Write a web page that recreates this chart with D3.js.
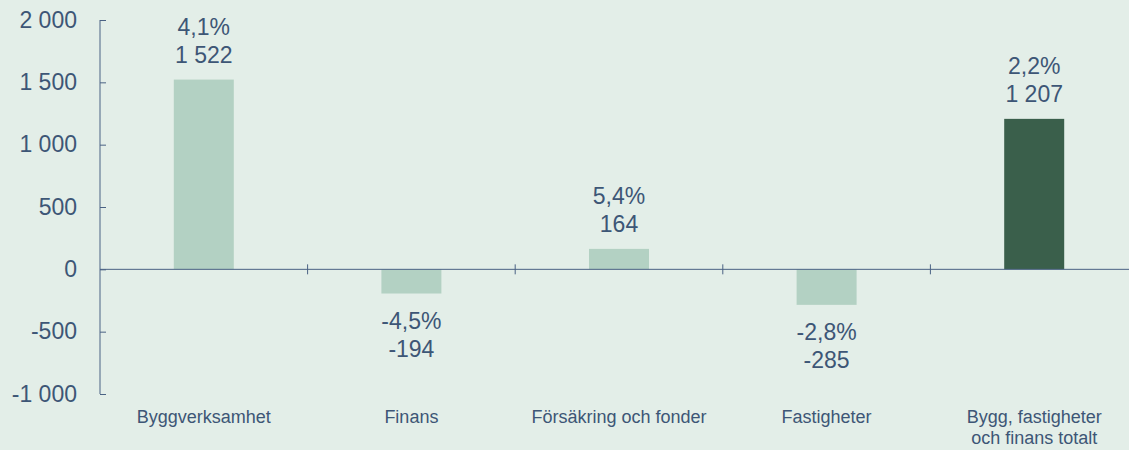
<!DOCTYPE html>
<html>
<head>
<meta charset="utf-8">
<script src="https://cdn.jsdelivr.net/npm/d3@7"></script>
<style>
  html, body { margin: 0; padding: 0; background: #e3eee8; }
  svg { display: block; font-family: "Liberation Sans", Arial, sans-serif; }
</style>
</head>
<body>
<div id="chart"></div>
<script>
const categories = ["Byggverksamhet", "Finans", "Försäkring och fonder", "Fastigheter", "Bygg, fastigheter\noch finans totalt"];
const values = [1522, -194, 164, -285, 1207];
const percents = ["4,1%", "-4,5%", "5,4%", "-2,8%", "2,2%"];
const yTicks = [-1000, -500, 0, 500, 1000, 1500, 2000];

const width = 1129, height = 450;
const axisColor = "#4a6284", textColor = "#3d5676";
// space as thousands separator, plain hyphen for minus
const fmt = v => (v < 0 ? "-" : "") + d3.format(",")(Math.abs(v)).replace(/,/g, " ");

const svg = d3.select("#chart").append("svg")
  .attr("width", width).attr("height", height);

svg.append("rect").attr("width", width).attr("height", height).attr("fill", "#e3eee8");

const x = d3.scaleBand().domain(categories).range([100, 1138]);
const y = d3.scaleLinear().domain([-1000, 2000]).range([394, 20]);

// bars
svg.append("g").selectAll("rect")
  .data(categories)
  .enter().append("rect")
  .attr("x", d => x(d) + x.bandwidth() / 2 - 30)
  .attr("width", 60)
  .attr("y", (d, i) => y(Math.max(0, values[i])))
  .attr("height", (d, i) => Math.abs(y(values[i]) - y(0)))
  .attr("fill", (d, i) => i === categories.length - 1 ? "#3a5f4b" : "#b3d1c3");

// y axis
const yAxis = svg.append("g")
  .attr("transform", "translate(100,0)")
  .call(d3.axisRight(y).tickValues(yTicks).tickSize(6).tickFormat(""));
yAxis.select(".domain").remove();
yAxis.selectAll("line").attr("stroke", axisColor);
svg.append("line")
  .attr("x1", 100).attr("x2", 100).attr("y1", y(2000)).attr("y2", y(-1000))
  .attr("stroke", axisColor);

svg.append("g").selectAll("text")
  .data(yTicks)
  .enter().append("text")
  .attr("x", 77).attr("y", d => y(d) + 7.5)
  .attr("text-anchor", "end")
  .attr("font-size", 23)
  .attr("fill", textColor)
  .text(fmt);

// zero line with category separators
svg.append("line")
  .attr("x1", 100).attr("x2", width).attr("y1", y(0)).attr("y2", y(0))
  .attr("stroke", axisColor);
svg.append("g").selectAll("line")
  .data(categories.slice(1))
  .enter().append("line")
  .attr("x1", d => x(d)).attr("x2", d => x(d))
  .attr("y1", y(0) - 5).attr("y2", y(0) + 5)
  .attr("stroke", axisColor);

// value labels
const lbl = svg.append("g").selectAll("text")
  .data(categories)
  .enter().append("text")
  .attr("text-anchor", "middle")
  .attr("font-size", 23)
  .attr("fill", textColor)
  .attr("x", d => x(d) + x.bandwidth() / 2)
  .attr("y", (d, i) => values[i] >= 0 ? y(values[i]) - 45 : y(values[i]) + 35);
lbl.append("tspan").text((d, i) => percents[i]);
lbl.append("tspan")
  .attr("x", d => x(d) + x.bandwidth() / 2)
  .attr("dy", 28)
  .text((d, i) => fmt(values[i]));

// category labels
const cl = svg.append("g").selectAll("text")
  .data(categories)
  .enter().append("text")
  .attr("text-anchor", "middle")
  .attr("font-size", 18)
  .attr("fill", textColor)
  .attr("y", 423);
cl.each(function (d) {
  const t = d3.select(this);
  d.split("\n").forEach((line, j) => {
    t.append("tspan")
      .attr("x", x(d) + x.bandwidth() / 2)
      .attr("dy", j === 0 ? 0 : 20.5)
      .text(line);
  });
});
</script>
</body>
</html>
